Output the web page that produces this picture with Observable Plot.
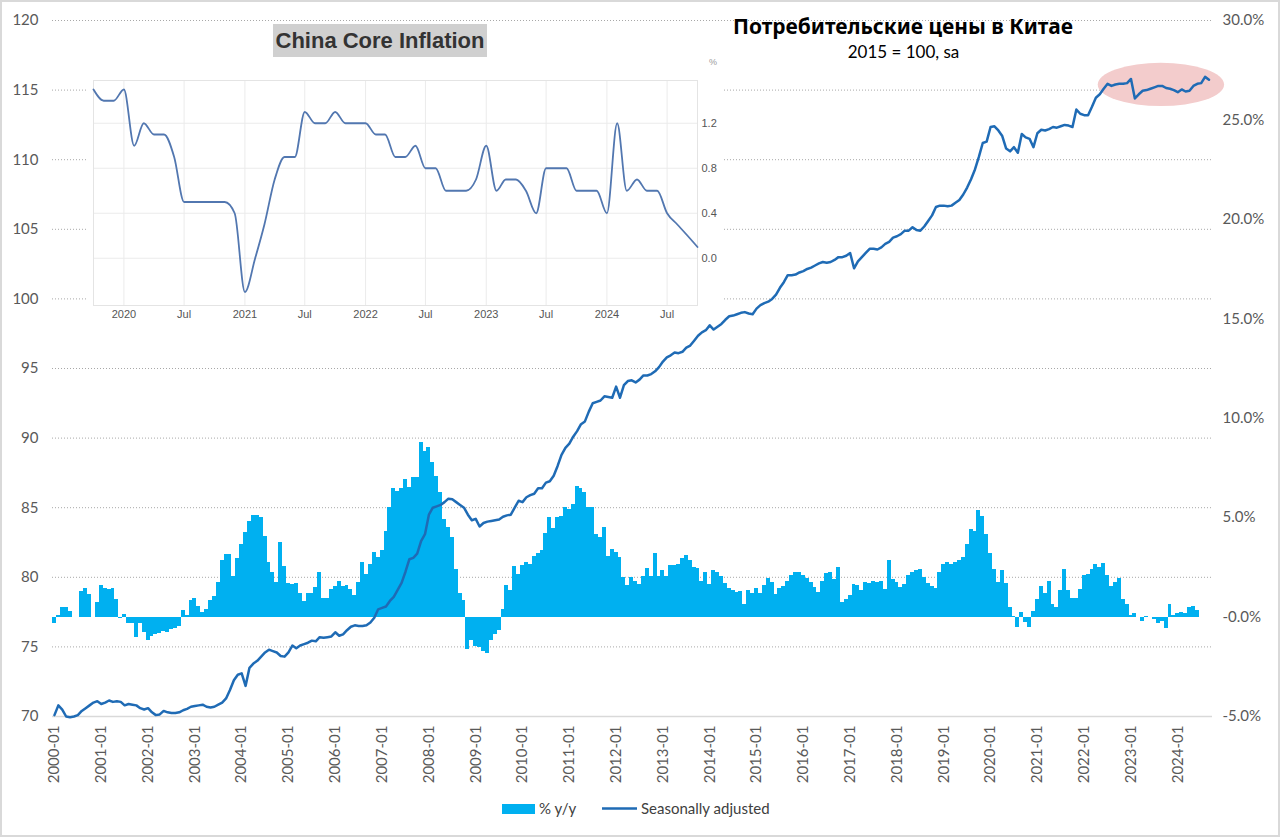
<!DOCTYPE html>
<html><head><meta charset="utf-8">
<script src="https://cdn.jsdelivr.net/npm/d3@7"></script>
<script src="https://cdn.jsdelivr.net/npm/@observablehq/plot@0.6"></script>
<style>
html,body{margin:0;padding:0;background:#fff;}
#wrap{position:relative;width:1280px;height:837px;overflow:hidden;background:#fff;font-family:Lato,"Open Sans",sans-serif;}
#frame{position:absolute;left:0;top:0;width:1280px;height:837px;box-sizing:border-box;border:2px solid #d9d9d9;pointer-events:none;}
.abs{position:absolute;}
</style></head>
<body><div id="wrap">
<div id="main" class="abs" style="left:0;top:0"></div>
<div class="abs" style="left:87px;top:22px;width:635px;height:298px;background:#fff"></div>
<div id="inset" class="abs" style="left:87px;top:58px"></div>
<div class="abs" style="left:273px;top:24px;width:214px;height:33px;background:#d0d0d0;font:bold 22px 'Liberation Sans',Arial,sans-serif;color:#333;line-height:33px;text-align:center;white-space:nowrap">China Core Inflation</div>
<div class="abs" style="left:709px;top:57px;font:9px 'Liberation Sans',Arial,sans-serif;color:#9a9a9a">%</div>
<svg class="abs" style="left:0;top:0" width="1280" height="70">
  <text x="903" y="34" text-anchor="middle" font-family="'Noto Sans','Open Sans',sans-serif" font-weight="bold" font-size="21" fill="#000" textLength="340" lengthAdjust="spacingAndGlyphs">Потребительские цены в Китае</text>
  <text x="903.5" y="58" text-anchor="middle" font-family="Lato,'Open Sans',sans-serif" font-size="17" fill="#000">2015 = 100, sa</text>
</svg>
<svg class="abs" style="left:0;top:795px" width="1280" height="30">
  <rect x="502" y="9" width="33" height="10" fill="#00B0F0"></rect>
  <text x="539" y="19" font-family="Lato,'Open Sans',sans-serif" font-size="15" fill="#404040">% y/y</text>
  <line x1="602" x2="637" y1="13.5" y2="13.5" stroke="#1f6bb5" stroke-width="2.5"></line>
  <text x="641" y="19" font-family="Lato,'Open Sans',sans-serif" font-size="15" fill="#404040">Seasonally adjusted</text>
</svg>
<div id="frame"></div>
</div>
<script>
// ---------- Main chart data (monthly from 2000-01) ----------
const startYear = 2000;
// % y/y (right axis), one row per year
const pctYoY = [
  -0.3, 0.1, 0.47, 0.47, 0.27, 0, 0, 1.27, 1.42, 1.12, 0, 0.74,
  1.6, 1.45, 1.4, 1.42, 0.9, -0.05, 0.12, -0.3, -0.3, -1.05, -0.3, -0.79,
  -1.2, -1.0, -0.87, -0.85, -0.75, -0.8, -0.65, -0.55, -0.45, 0.33, 0.1, 0.84,
  0.95, 0.52, 0.22, 0.4, 0.84, 1.04, 1.72, 2.85, 3.15, 3.15, 2.03, 2.95,
  3.65, 4.27, 4.83, 5.13, 5.13, 4.99, 4.07, 2.73, 2.23, 1.76, 3.74, 2.53,
  1.71, 1.64, 1.7, 1.17, 0.8, 1.2, 1.2, 1.47, 2.23, 0.92, 0.92, 1.39,
  1.56, 1.81, 1.56, 1.61, 1.39, 1.1, 1.72, 2.73, 2.14, 2.65, 3.23, 2.98,
  3.37, 4.32, 5.53, 6.47, 6.3, 6.47, 6.92, 6.5, 7.04, 7.0, 8.76, 8.35,
  8.51, 7.76, 7.09, 6.25, 4.91, 4.52, 3.99, 2.4, 1.17, 0.84, -1.62, -1.2,
  -1.46, -1.52, -1.74, -1.82, -1.2, -0.87, -0.67, 0.39, 1.61, 1.34, 2.53, 2.14,
  2.6, 2.73, 2.65, 3.07, 3.18, 3.35, 4.19, 4.99, 4.46, 4.99, 5.08, 5.5,
  5.4, 5.67, 6.59, 6.47, 6.25, 5.53, 5.5, 4.16, 3.99, 4.49, 3.07, 3.4,
  3.24, 2.98, 1.98, 1.61, 1.98, 1.81, 1.64, 2.06, 2.45, 2.06, 3.18, 2.06,
  2.35, 2.06, 2.6, 2.6, 2.65, 2.95, 3.12, 2.82, 2.48, 2.45, 1.81, 2.23,
  1.64, 2.35, 2.23, 2.06, 1.68, 1.44, 1.34, 1.22, 1.3, 0.64, 1.34, 1.17,
  1.44, 1.17, 1.61, 1.94, 1.72, 1.14, 1.44, 1.56, 1.81, 2.09, 2.23, 2.23,
  2.1, 1.95, 1.75, 1.5, 1.22, 1.81, 2.18, 2.23, 1.89, 2.48, 0.72, 0.89,
  1.1, 1.64, 1.61, 1.34, 1.72, 1.68, 1.81, 1.72, 1.81, 1.39, 2.82, 1.89,
  1.72, 1.51, 1.64, 2.09, 2.23, 2.32, 2.4, 1.98, 1.68, 1.56, 1.44, 2.23,
  2.65, 2.73, 2.65, 2.73, 2.85, 2.98, 3.65, 4.41, 4.32, 5.36, 5.08, 4.16,
  3.18, 2.4, 1.72, 2.32, 1.68, 0.47, 0.02, -0.5, 0.22, -0.28, -0.5, 0.3,
  0.86, 1.56, 1.17, 1.81, 0.64, 0.47, 1.34, 2.4, 1.34, 0.95, 0.95, 1.39,
  2.09, 2.12, 2.4, 2.62, 2.48, 2.68, 2.09, 1.56, 1.72, 1.94, 0.89, 0.64,
  0.08, 0.16, 0, -0.2, 0.05, 0, -0.11, -0.33, -0.2, -0.58, 0.64, 0.08,
  0.2, 0.25, 0.16, 0.5, 0.53, 0.34
];
// Seasonally adjusted index, 2015 = 100 (left axis)
const saIndex = [
  70.1, 70.8, 70.5, 70.0, 69.95, 70.0, 70.1, 70.4, 70.6, 70.8, 71.0, 71.1,
  70.9, 71.0, 71.15, 71.05, 71.1, 71.05, 70.8, 70.9, 70.85, 70.8, 70.6, 70.5,
  70.6, 70.3, 70.1, 70.15, 70.4, 70.3, 70.25, 70.25, 70.3, 70.45, 70.55, 70.7,
  70.75, 70.8, 70.85, 70.7, 70.65, 70.7, 70.85, 71.0, 71.3, 71.9, 72.6, 73.0,
  73.1, 72.2, 73.5, 73.8, 74.0, 74.3, 74.6, 74.8, 74.7, 74.6, 74.35, 74.3,
  74.6, 75.1, 74.9, 75.1, 75.2, 75.3, 75.45, 75.4, 75.7, 75.65, 75.7, 75.75,
  76.05, 75.8, 75.9, 76.2, 76.45, 76.55, 76.5, 76.5, 76.55, 76.75, 77.1, 77.7,
  77.8, 77.9, 78.3, 78.6, 79.1, 79.6, 80.4, 81.3, 81.4, 81.7, 82.6, 83.1,
  84.5, 85.0, 85.1, 85.2, 85.4, 85.65, 85.6, 85.4, 85.2, 85.0, 84.5, 84.1,
  84.2, 83.65, 83.9, 84.0, 84.05, 84.1, 84.15, 84.35, 84.45, 84.5, 85.0, 85.5,
  85.4, 85.75, 85.9, 86.0, 86.4, 86.4, 86.8, 86.9, 87.3, 88.0, 88.8, 89.3,
  89.6, 90.1, 90.5, 91.0, 91.2, 91.9, 92.5, 92.6, 92.7, 93.0, 92.95, 92.9,
  93.7, 92.9, 93.8, 94.1, 94.15, 94.0, 94.2, 94.5, 94.5, 94.6, 94.8, 95.1,
  95.5, 95.8, 95.95, 96.15, 96.1, 96.2, 96.5, 96.65, 97.0, 97.35, 97.6, 97.75,
  98.1, 97.8, 98.0, 98.2, 98.5, 98.75, 98.8, 98.9, 99.0, 99.05, 98.95, 98.9,
  99.3, 99.55, 99.7, 99.8, 100.0, 100.3, 100.8, 101.2, 101.7, 101.7, 101.75, 101.9,
  102.0, 102.15, 102.25, 102.4, 102.55, 102.65, 102.6, 102.65, 102.8, 103.0, 103.0, 103.1,
  103.3, 102.2, 102.7, 103.0, 103.3, 103.6, 103.6, 103.55, 103.7, 103.95, 104.1, 104.4,
  104.5, 104.65, 104.9, 104.9, 105.15, 104.95, 104.9, 105.2, 105.6, 106.0, 106.6, 106.7,
  106.7, 106.65, 106.7, 106.9, 107.1, 107.5, 108.0, 108.6, 109.3, 110.2, 111.2, 111.3,
  112.35, 112.4, 112.1, 111.7, 110.8, 110.6, 110.9, 110.5, 111.85, 111.6, 111.5, 110.9,
  111.9, 112.15, 112.1, 112.2, 112.35, 112.3, 112.4, 112.5, 112.45, 112.35, 113.6, 113.3,
  113.2, 113.2, 113.8, 114.45, 114.7, 115.1, 115.45, 115.3, 115.4, 115.45, 115.45, 115.5,
  115.8, 114.4, 114.7, 114.95, 115.0, 115.1, 115.2, 115.3, 115.3, 115.15, 115.1, 115.0,
  114.85, 115.05, 114.9, 114.95, 115.3, 115.45, 115.5, 115.95, 115.75
];
const leftTicks = [70, 75, 80, 85, 90, 95, 100, 105, 110, 115, 120];
const rightTicks = [-5, 0, 5, 10, 15, 20, 25, 30];
const xTickLabels = d3.range(2000, 2025).map(y => `${y}-01`);
// highlighted region (data units: month index / index value)
const highlight = {month: 284.3, value: 115.37, halfMonths: 16.2, halfValue: 1.55};

// ---------- Inset: China Core Inflation (% y/y), monthly from 2019-10 ----------
const coreStart = "2019-10";
const coreInflation = [
  1.5, 1.4, 1.4,
  1.5, 1.0, 1.2, 1.1, 1.1, 0.9, 0.5, 0.5, 0.5, 0.5, 0.5, 0.4,
  -0.3, 0.0, 0.3, 0.7, 0.9, 0.9, 1.3, 1.2, 1.2, 1.3, 1.2, 1.2,
  1.2, 1.1, 1.1, 0.9, 0.9, 1.0, 0.8, 0.8, 0.6, 0.6, 0.6, 0.7,
  1.0, 0.6, 0.7, 0.7, 0.6, 0.4, 0.8, 0.8, 0.8, 0.6, 0.6, 0.6,
  0.4, 1.2, 0.6, 0.7, 0.6, 0.6, 0.4, 0.3, 0.2, 0.1
];
const insetTickLabels = ["2020", "Jul", "2021", "Jul", "2022", "Jul", "2023", "Jul", "2024", "Jul"];
const insetYTicks = [0, 0.4, 0.8, 1.2];

// ---------- Build ----------
const toLeft = p => 70 + (p + 5) * 50 / 35;   // % (right axis) -> left-axis units
const bars = pctYoY.map((v, m) => ({m, v}));
const line = saIndex.map((v, m) => ({m, v}));
const xTickPos = xTickLabels.map((_, i) => i * 12 + 0.5);

function highlightMark(index, scales) {
  const x = scales.x, y = scales.y;
  if (typeof x !== "function" || typeof y !== "function") return null;
  const e = document.createElementNS("http://www.w3.org/2000/svg", "ellipse");
  const cx = x(highlight.month), cy = y(highlight.value);
  e.setAttribute("cx", cx);
  e.setAttribute("cy", cy);
  e.setAttribute("rx", Math.abs(x(highlight.month + highlight.halfMonths) - cx));
  e.setAttribute("ry", Math.abs(y(highlight.value + highlight.halfValue) - cy));
  e.setAttribute("fill", "#f3cccc");
  return e;
}

const main = Plot.plot({
  width: 1280, height: 790,
  marginLeft: 52, marginRight: 68, marginTop: 20, marginBottom: 74,
  style: {fontFamily: "Lato, 'Open Sans', sans-serif", fontSize: "15px", color: "#595959", background: "transparent", overflow: "visible"},
  x: {type: "linear", domain: [0, 297.4]},
  y: {domain: [70, 120]},
  marks: [
    Plot.gridY(leftTicks.filter(t => t > 70), {stroke: "#a8a8a8", strokeOpacity: 1, strokeDasharray: "1,2"}),
    Plot.ruleY([70], {stroke: "#d9d9d9", strokeWidth: 1.3}),
    Plot.rect(bars, {x1: d => d.m, x2: d => d.m + 1, y1: () => toLeft(0), y2: d => toLeft(d.v), fill: "#00B0F0", shapeRendering: "crispEdges"}),
    highlightMark,
    Plot.line(line, {x: d => d.m + 0.5, y: "v", stroke: "#1f6bb5", strokeWidth: 2.5, strokeLinejoin: "round"}),
    Plot.axisY(leftTicks, {anchor: "left", tickSize: 0, tickPadding: 14, label: null, tickFormat: d => String(d)}),
    Plot.axisY(rightTicks.map(toLeft), {anchor: "right", tickSize: 0, tickPadding: 10, label: null,
      tickFormat: d => `${((d - 70) * 35 / 50 - 5).toFixed(1)}%`}),
    Plot.axisX(xTickPos, {anchor: "bottom", tickSize: 0, tickPadding: 9, tickRotate: -90, label: null,
      tickFormat: d => xTickLabels[Math.round((d - 0.5) / 12)]})
  ]
});
document.getElementById("main").appendChild(main);

// inset
const [cy0, cm0] = coreStart.split("-").map(Number);
const core = coreInflation.map((v, i) => ({date: new Date(Date.UTC(cy0, cm0 - 1 + i, 1)), v}));
const insetTicks = insetTickLabels.map((_, i) => new Date(Date.UTC(2020 + Math.floor(i / 2), (i % 2) * 6, 1)));
const inset = Plot.plot({
  width: 650, height: 267,
  marginLeft: 6, marginRight: 40, marginTop: 22, marginBottom: 20,
  style: {fontFamily: "'Liberation Sans', Arial, sans-serif", fontSize: "11px", color: "#555", background: "transparent", overflow: "visible"},
  x: {type: "utc", domain: [core[0].date, new Date(Date.UTC(2024, 9, 1))]},
  y: {domain: [-0.42, 1.58]},
  marks: [
    Plot.gridX(insetTicks, {stroke: "#ebebeb", strokeOpacity: 1}),
    Plot.gridY([1.2, 0.8, 0.4, 0.0], {stroke: "#ebebeb", strokeOpacity: 1}),
    Plot.frame({stroke: "#e4e4e4"}),
    Plot.line(core, {x: "date", y: "v", curve: "monotone-x", stroke: "#5277b0", strokeWidth: 1.8}),
    Plot.axisX(insetTicks, {anchor: "bottom", tickSize: 0, tickPadding: 5, label: null,
      tickFormat: d => insetTickLabels[insetTicks.findIndex(t => +t === +d)]}),
    Plot.axisY(insetYTicks, {anchor: "right", tickSize: 0, tickPadding: 4, label: null, tickFormat: d => d.toFixed(1)})
  ]
});
document.getElementById("inset").appendChild(inset);
</script>
</body></html>
